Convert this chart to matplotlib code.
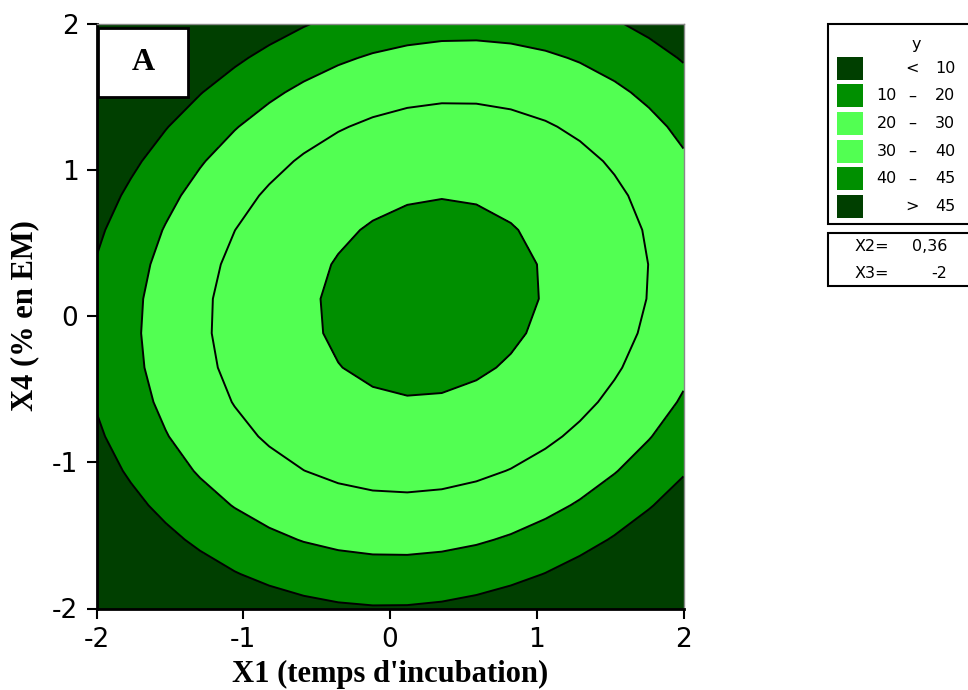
import numpy as np
import matplotlib
matplotlib.use("Agg")
import matplotlib.pyplot as plt
from matplotlib.patches import Rectangle

# Fitted second-order response: y = b0 + b1*X1 + b4*X4 + b11*X1^2 + b44*X4^2 + b14*X1*X4
# (X2 = 0.36 and X3 = -2 held fixed)
b0 = 42.96
b1 = 3.105
b4 = 1.463
b11 = -6.149
b44 = -7.655
b14 = 1.694

contour_levels = [10, 20, 30, 40, 45]
band_labels = [("", "<", "10"), ("10", "\u2013", "20"), ("20", "\u2013", "30"),
               ("30", "\u2013", "40"), ("40", "\u2013", "45"), ("", ">", "45")]
band_colors = ["#003f00", "#008f00", "#52ff52", "#52ff52", "#008f00", "#003f00"]
held_names = ["X2=", "X3="]
held_values = ["0,36", "-2"]
x_ticks = [-2, -1, 0, 1, 2]
y_ticks = [-2, -1, 0, 1, 2]

W, H = 968, 690
fig = plt.figure(figsize=(W / 100, H / 100), dpi=100)

def fx(px):
    return px / W

def fy(py):
    return 1 - py / H

ax_l, ax_r, ax_t, ax_b = 96.5, 683.5, 23.5, 608.5
ax = fig.add_axes([fx(ax_l), fy(ax_b), (ax_r - ax_l) / W, (ax_b - ax_t) / H])

# coarse evaluation mesh, as in the original software
g = np.linspace(-2, 2, 18)
X1, X4 = np.meshgrid(g, g)
Z = b0 + b1 * X1 + b4 * X4 + b11 * X1 ** 2 + b44 * X4 ** 2 + b14 * X1 * X4

fill_levels = [-1000] + contour_levels + [1000]
ax.contourf(X1, X4, Z, levels=fill_levels, colors=band_colors)
ax.contour(X1, X4, Z, levels=contour_levels, colors="black", linewidths=1.4)

ax.set_xlim(-2, 2)
ax.set_ylim(-2, 2)
ax.set_xticks(x_ticks)
ax.set_yticks(y_ticks)
tick_font = "DejaVu Sans"
ax.set_xticklabels([str(t) for t in x_ticks], family=tick_font, fontsize=19)
ax.set_yticklabels([str(t) for t in y_ticks], family=tick_font, fontsize=19)
ax.tick_params(direction="out", length=7, width=1.5, pad=6)
for side in ["left", "bottom"]:
    ax.spines[side].set_linewidth(2)
for side in ["top", "right"]:
    ax.spines[side].set_linewidth(1)
    ax.spines[side].set_color("#888888")

ax.set_xlabel("X1 (temps d'incubation)", family="Liberation Serif", fontweight="bold",
              fontsize=22, labelpad=5)
ax.set_ylabel("X4 (% en EM)", family="Liberation Serif", fontweight="bold",
              fontsize=22, labelpad=9)

# panel tag
ax.add_patch(Rectangle((0.003, 0.875), 0.153, 0.118, transform=ax.transAxes,
                       facecolor="white", edgecolor="black", linewidth=2, zorder=5))
ax.text(0.0795, 0.934, "A", transform=ax.transAxes, ha="center", va="center",
        family="Liberation Serif", fontweight="bold", fontsize=23, zorder=6)

# legend of bands
leg_font = "DejaVu Sans"
leg_size = 11.5
fig.patches.append(Rectangle((fx(827.7), fy(224)), fx(980 - 827.7), fy(24) - fy(224),
                             transform=fig.transFigure, facecolor="white",
                             edgecolor="black", linewidth=1.5))
fig.text(fx(916.7), fy(45), "y", ha="center", va="center", family=leg_font, fontsize=leg_size)
for i, ((lo, mid, hi), col) in enumerate(zip(band_labels, band_colors)):
    cy = 68.3 + 27.65 * i
    fig.patches.append(Rectangle((fx(837.3), fy(cy + 11.5)), fx(26), fy(0) - fy(23),
                                 transform=fig.transFigure, facecolor=col,
                                 edgecolor="none"))
    if lo:
        fig.text(fx(896.7), fy(cy), lo, ha="right", va="center", family=leg_font, fontsize=leg_size)
    fig.text(fx(912), fy(cy), mid, ha="center", va="center", family=leg_font, fontsize=leg_size)
    fig.text(fx(935), fy(cy), hi, ha="left", va="center", family=leg_font, fontsize=leg_size)

# held factor settings
fig.patches.append(Rectangle((fx(827.7), fy(285.7)), fx(980 - 827.7), fy(233.3) - fy(285.7),
                             transform=fig.transFigure, facecolor="white",
                             edgecolor="black", linewidth=1.5))
for i, (name, val) in enumerate(zip(held_names, held_values)):
    cy = 246.7 + 26.6 * i
    fig.text(fx(855), fy(cy), name, ha="left", va="center", family=leg_font, fontsize=leg_size)
    fig.text(fx(947), fy(cy), val, ha="right", va="center", family=leg_font, fontsize=leg_size)

fig.savefig("out.png", dpi=100)
